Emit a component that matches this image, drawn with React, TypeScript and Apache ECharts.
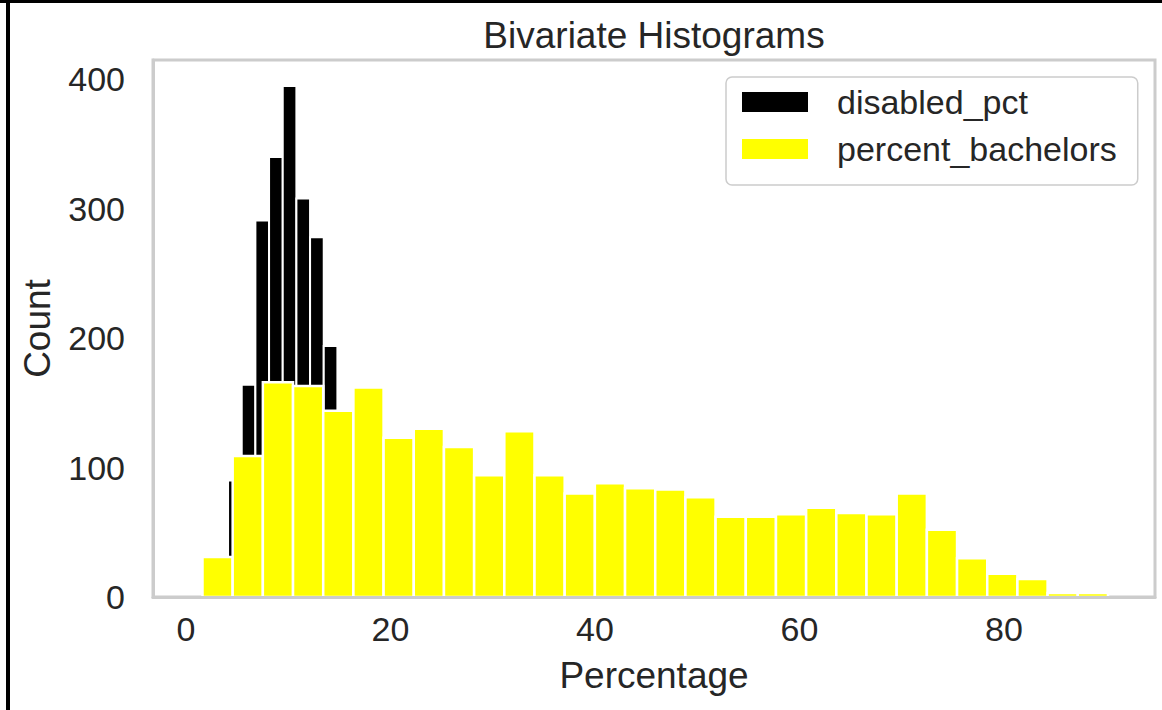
import React, { useEffect, useRef } from "react";
import * as echarts from "echarts";

const chartTitle = "Bivariate Histograms";
const xName = "Percentage";
const yName = "Count";
const seriesNames = ["disabled_pct", "percent_bachelors"];

// disabled_pct: visible bins (edges start + bin width), counts
const disabledEdgeStart = 4.11;
const disabledBinWidth = 1.337;
const disabledCounts = [90, 164, 291, 340, 395, 308, 278, 194];

// percent_bachelors: 30 bins
const bachelorsEdgeStart = 1.61;
const bachelorsBinWidth = 2.952;
const bachelorsCounts = [
  31, 109, 166, 163, 144, 162, 123, 130, 116, 94, 128, 94, 80, 88, 84,
  83, 77, 62, 62, 64, 69, 65, 64, 80, 52, 30, 18, 14, 3, 3,
];

const xTicks = [0, 20, 40, 60, 80];
const yTicks = [0, 100, 200, 300, 400];
const xRange = [-3.23, 94.77];
const yRange = [0, 415];

const FONT = "'Liberation Sans', Arial, Helvetica, sans-serif";
const TEXT = "#262626";
const SPINE = "#cccccc";

function toBins(start: number, width: number, counts: number[]) {
  return counts.map((c, i) => [start + i * width, start + (i + 1) * width, c]);
}

function makeRender(fill: string, lw: number) {
  return (params: any, api: any) => {
    const p0 = api.coord([api.value(0), 0]);
    const p1 = api.coord([api.value(1), api.value(2)]);
    return {
      type: "rect",
      shape: { x: p0[0], y: p1[1], width: p1[0] - p0[0], height: p0[1] - p1[1] },
      style: { fill, stroke: "#ffffff", lineWidth: lw },
    };
  };
}

export default function App() {
  const ref = useRef<HTMLDivElement>(null);
  useEffect(() => {
    if (!ref.current) return;
    const chart = echarts.init(ref.current, null, { renderer: "svg" });
    chart.setOption({
      animation: false,
      backgroundColor: "#ffffff",
      title: {
        text: chartTitle,
        left: 654,
        top: 17,
        padding: 0,
        textAlign: "center",
        textStyle: { fontSize: 37, fontWeight: "normal", color: TEXT, fontFamily: FONT },
      },
      grid: {
        left: 153,
        right: 7,
        top: 60,
        bottom: 113,
        show: true,
        borderColor: SPINE,
        borderWidth: 3,
        backgroundColor: "transparent",
      },
      legend: {
        orient: "vertical",
        left: 726,
        top: 77,
        selectedMode: false,
        data: [
          { name: seriesNames[0], icon: "rect", itemStyle: { color: "#000000", borderWidth: 0 } },
          { name: seriesNames[1], icon: "rect", itemStyle: { color: "#ffff00", borderWidth: 0 } },
        ],
        itemWidth: 66,
        itemHeight: 20,
        itemGap: 13,
        padding: [8, 21, 19, 16],
        backgroundColor: "#ffffff",
        borderColor: SPINE,
        borderWidth: 1.5,
        borderRadius: 6,
        textStyle: { fontSize: 34, color: TEXT, fontFamily: FONT, padding: [0, 0, 0, 24] },
      },
      xAxis: {
        type: "value",
        min: xRange[0],
        max: xRange[1],
        name: xName,
        nameLocation: "middle",
        nameGap: 60,
        nameTextStyle: { fontSize: 37, color: TEXT, fontFamily: FONT },
        axisLine: { show: true, onZero: false, lineStyle: { color: SPINE, width: 3 } },
        axisTick: { show: false },
        splitLine: { show: false },
        axisLabel: { customValues: xTicks, fontSize: 34, color: TEXT, margin: 15, fontFamily: FONT },
        z: 5,
      },
      yAxis: {
        type: "value",
        min: yRange[0],
        max: yRange[1],
        name: yName,
        nameLocation: "middle",
        nameGap: 97,
        nameTextStyle: { fontSize: 37, color: TEXT, fontFamily: FONT },
        axisLine: { show: true, onZero: false, lineStyle: { color: SPINE, width: 3 } },
        axisTick: { show: false },
        splitLine: { show: false },
        axisLabel: { customValues: yTicks, fontSize: 34, color: TEXT, margin: 28, fontFamily: FONT },
        z: 5,
      },
      graphic: [
        { type: "rect", shape: { x: 0, y: 0, width: 1162, height: 3 }, style: { fill: "#000000" }, z: 100 },
        { type: "rect", shape: { x: 6, y: 0, width: 4, height: 710 }, style: { fill: "#000000" }, z: 100 },
      ],
      series: [
        {
          name: seriesNames[0],
          type: "custom",
          itemStyle: { color: "#000000" },
          encode: { x: [0, 1], y: 2 },
          renderItem: makeRender("#000000", 2),
          data: toBins(disabledEdgeStart, disabledBinWidth, disabledCounts),
          z: 2,
        },
        {
          name: seriesNames[1],
          type: "custom",
          itemStyle: { color: "#ffff00" },
          encode: { x: [0, 1], y: 2 },
          renderItem: makeRender("#ffff00", 2.5),
          data: toBins(bachelorsEdgeStart, bachelorsBinWidth, bachelorsCounts),
          z: 3,
        },
      ],
    });
    return () => chart.dispose();
  }, []);
  return (
    <div
      ref={ref}
      style={{ position: "absolute", left: 0, top: 0, width: 1162, height: 710 }}
    />
  );
}
